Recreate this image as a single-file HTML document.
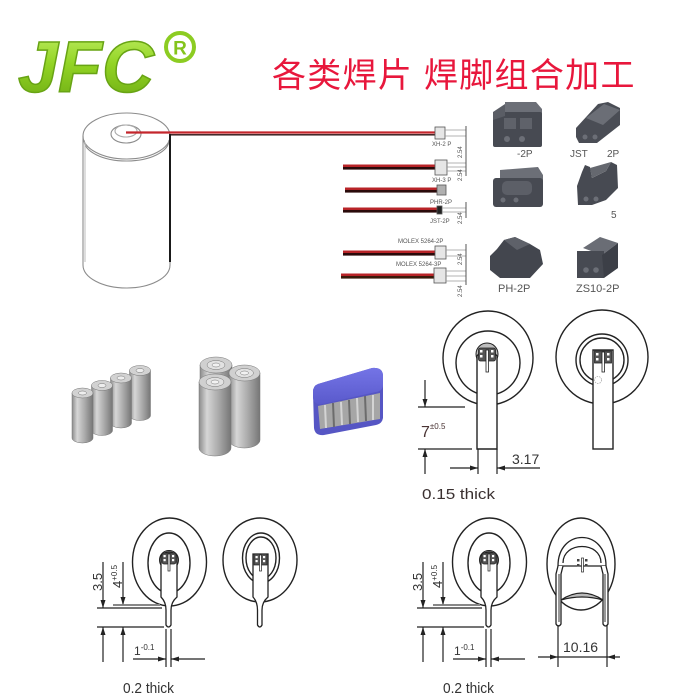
<!DOCTYPE html>
<html>
<head>
<meta charset="utf-8">
<style>
html,body{margin:0;padding:0;background:#fff;}
svg{display:block;}
</style>
</head>
<body>
<svg width="700" height="700" viewBox="0 0 700 700" xmlns="http://www.w3.org/2000/svg" font-family="'Liberation Sans', sans-serif">
<defs>
  <linearGradient id="jfc" x1="0" y1="0" x2="0" y2="1">
    <stop offset="0" stop-color="#c2ef66"/>
    <stop offset="0.45" stop-color="#92d424"/>
    <stop offset="1" stop-color="#6aa812"/>
  </linearGradient>
  <linearGradient id="cell" x1="0" y1="0" x2="1" y2="0">
    <stop offset="0" stop-color="#8c8c8c"/>
    <stop offset="0.25" stop-color="#d6d6d6"/>
    <stop offset="0.6" stop-color="#ababab"/>
    <stop offset="1" stop-color="#767676"/>
  </linearGradient>
  <linearGradient id="blueTop" x1="0" y1="0" x2="0" y2="1">
    <stop offset="0" stop-color="#7474e6"/>
    <stop offset="1" stop-color="#5a5acc"/>
  </linearGradient>
</defs>
<rect width="700" height="700" fill="#fff"/>

<!-- JFC logo -->
<text x="18" y="92" font-size="72" font-weight="bold" font-style="italic" fill="url(#jfc)" stroke="#68a414" stroke-width="1.5">JFC</text>
<circle cx="180" cy="47" r="14" fill="#fff" stroke="#8ccc22" stroke-width="4"/>
<text x="180" y="54.5" font-size="19" font-weight="bold" fill="#84c41c" text-anchor="middle">R</text>

<!-- Title -->
<text x="272" y="87" font-size="34" letter-spacing="1.3" fill="#e8173c" font-family="'Liberation Sans','Noto Sans CJK SC',sans-serif">各类焊片 焊脚组合加工</text>

<!-- Cylinder -->
<g fill="none" stroke="#8c8c8c" stroke-width="1.1">
  <ellipse cx="126.5" cy="136" rx="43.5" ry="23"/>
  <path d="M84,140 A42.5,21 0 0 0 169,140"/>
  <path d="M83,136 L83,265 A43.5,23 0 0 0 170,265 L170,136"/>
  <path d="M85,142 L85,262" stroke="#c4c4c4"/>
  <ellipse cx="126" cy="134" rx="15" ry="9"/>
  <ellipse cx="126" cy="131" rx="11" ry="6" stroke="#aaa"/>
</g>
<!-- cylinder wires -->
<line x1="126" y1="132.5" x2="435" y2="132.5" stroke="#c4262c" stroke-width="2.2"/>
<line x1="170" y1="134.8" x2="435" y2="134.8" stroke="#2a0c0c" stroke-width="1.4"/>
<line x1="170" y1="134" x2="170" y2="262" stroke="#1a1a1a" stroke-width="2"/>

<!-- wire harnesses -->
<g>
  <rect x="343" y="164.5" width="92" height="2.6" fill="#b82428"/>
  <rect x="343" y="167" width="92" height="2.6" fill="#2a0a0a"/>
  <rect x="345" y="187.5" width="92" height="2.6" fill="#b82428"/>
  <rect x="345" y="190" width="92" height="2.6" fill="#2a0a0a"/>
  <rect x="343" y="207.5" width="94" height="2.6" fill="#b82428"/>
  <rect x="343" y="210" width="94" height="2.6" fill="#2a0a0a"/>
  <rect x="343" y="250.5" width="92" height="2.6" fill="#b82428"/>
  <rect x="343" y="253" width="92" height="2.6" fill="#2a0a0a"/>
  <rect x="341" y="273.5" width="93" height="2.6" fill="#b82428"/>
  <rect x="341" y="276" width="93" height="2.6" fill="#3a1a0a"/>
</g>
<!-- small connectors -->
<g stroke="#555" stroke-width="0.8">
  <rect x="435" y="127" width="10" height="12" fill="#e6e6e6"/>
  <rect x="435" y="160" width="12" height="15" fill="#e6e6e6"/>
  <rect x="437" y="185" width="9" height="10" fill="#b0b0b0"/>
  <rect x="437" y="206" width="5" height="8" fill="#222"/>
  <rect x="435" y="246" width="11" height="13" fill="#e6e6e6"/>
  <rect x="434" y="268" width="12" height="15" fill="#e6e6e6"/>
</g>
<g stroke="#9a9a9a" stroke-width="0.8">
  <line x1="445" y1="130" x2="466" y2="130"/><line x1="445" y1="136" x2="466" y2="136"/>
  <line x1="447" y1="163" x2="466" y2="163"/><line x1="447" y1="167" x2="466" y2="167"/><line x1="447" y1="171" x2="466" y2="171"/>
  <line x1="442" y1="208" x2="466" y2="208"/><line x1="442" y1="212" x2="466" y2="212"/>
  <line x1="446" y1="250" x2="466" y2="250"/><line x1="446" y1="256" x2="466" y2="256"/>
  <line x1="446" y1="271" x2="466" y2="271"/><line x1="446" y1="276" x2="466" y2="276"/><line x1="446" y1="281" x2="466" y2="281"/>
</g>
<g stroke="#444" stroke-width="0.9">
  <line x1="466" y1="126" x2="466" y2="176"/>
  <line x1="466" y1="202" x2="466" y2="218"/>
  <line x1="466" y1="244" x2="466" y2="285"/>
</g>
<g font-size="6" fill="#555">
  <text x="432" y="146">XH-2 P</text>
  <text x="432" y="182">XH-3 P</text>
  <text x="430" y="204">PHR-2P</text>
  <text x="430" y="223">JST-2P</text>
  <text x="398" y="243">MOLEX 5264-2P</text>
  <text x="396" y="266">MOLEX 5264-3P</text>
  <text transform="translate(462,158) rotate(-90)">2.54</text>
  <text transform="translate(462,181) rotate(-90)">2.54</text>
  <text transform="translate(462,224) rotate(-90)">2.54</text>
  <text transform="translate(462,265) rotate(-90)">2.54</text>
  <text transform="translate(462,297) rotate(-90)">2.54</text>
</g>

<!-- right connector renders -->
<g>
  <!-- C1 -->
  <polygon points="505,102 536,102 542,109 542,116 505,116" fill="#6c6f77"/>
  <rect x="493" y="112" width="49" height="35" rx="2" fill="#474a52"/>
  <polygon points="493,112 505,104 505,116 493,120" fill="#5a5d65"/>
  <rect x="504" y="118" width="12" height="11" fill="#5f626a"/>
  <rect x="520" y="118" width="12" height="11" fill="#5f626a"/>
  <circle cx="507" cy="139" r="3" fill="#6c6f77"/>
  <circle cx="522" cy="139" r="3" fill="#6c6f77"/>
  <!-- C2 -->
  <polygon points="576,128 598,104 608,102 620,108 620,125 597,143 579,143 576,137" fill="#4a4d55"/>
  <polygon points="586,118 604,104 620,110 603,125" fill="#6b6e76"/>
  <circle cx="585" cy="137" r="2.5" fill="#6b6e76"/>
  <circle cx="595" cy="137" r="2.5" fill="#6b6e76"/>
  <!-- C3 -->
  <polygon points="500,170 538,167 543,175 543,182 500,182" fill="#6c6f77"/>
  <rect x="493" y="178" width="50" height="29" rx="3" fill="#474a52"/>
  <rect x="502" y="181" width="30" height="14" rx="5" fill="#5c5f67"/>
  <circle cx="503" cy="200" r="2.5" fill="#6c6f77"/>
  <circle cx="516" cy="200" r="2.5" fill="#6c6f77"/>
  <!-- C4 -->
  <polygon points="582,172 585,165 590,167 592,178 606,171 611,162 617,165 618,188 606,200 592,205 578,205 577,186" fill="#474a52"/>
  <polygon points="590,168 592,178 606,171 611,162" fill="#65686f"/>
  <circle cx="586" cy="199" r="2.5" fill="#6c6f77"/>
  <circle cx="596" cy="199" r="2.5" fill="#6c6f77"/>
  <!-- C5 -->
  <polygon points="490,256 497,249 504,240 515,237 530,244 540,250 543,264 530,278 500,278 490,270" fill="#43464e"/>
  <polygon points="504,240 515,237 530,244 517,250" fill="#5e6169"/>
  <!-- C6 -->
  <polygon points="583,248 600,237 618,243 602,255" fill="#6a6d75"/>
  <rect x="577" y="251" width="27" height="27" fill="#474a52"/>
  <polygon points="602,255 618,243 618,268 604,278" fill="#3c3f47"/>
  <circle cx="586" cy="270" r="2.8" fill="#6c6f77"/>
  <circle cx="596" cy="270" r="2.8" fill="#6c6f77"/>
</g>
<g font-size="10" fill="#555">
  <text x="517" y="157">-2P</text>
  <text x="570" y="157">JST</text>
  <text x="607" y="157">2P</text>
  <text x="611" y="218">5</text>
  <text x="498" y="292" font-size="11">PH-2P</text>
  <text x="576" y="292" font-size="11">ZS10-2P</text>
</g>

<!-- Battery pack 1: 4 cells -->
<g stroke="#777" stroke-width="0.5">
  <path d="M129.5,370.5 v45 a10.5,5 0 0 0 21,0 v-45 z" fill="url(#cell)"/>
  <ellipse cx="140" cy="370.5" rx="10.5" ry="5" fill="#d2d2d2"/>
  <ellipse cx="140" cy="370.5" rx="4" ry="2" fill="#eee"/>
  <path d="M110.5,378 v45 a10.5,5 0 0 0 21,0 v-45 z" fill="url(#cell)"/>
  <ellipse cx="121" cy="378" rx="10.5" ry="5" fill="#d2d2d2"/>
  <ellipse cx="121" cy="378" rx="4" ry="2" fill="#eee"/>
  <path d="M91.5,385.5 v45 a10.5,5 0 0 0 21,0 v-45 z" fill="url(#cell)"/>
  <ellipse cx="102" cy="385.5" rx="10.5" ry="5" fill="#d2d2d2"/>
  <ellipse cx="102" cy="385.5" rx="4" ry="2" fill="#eee"/>
  <path d="M72,393 v45 a10.5,5 0 0 0 21,0 v-45 z" fill="url(#cell)"/>
  <ellipse cx="82.5" cy="393" rx="10.5" ry="5" fill="#d2d2d2"/>
  <ellipse cx="82.5" cy="393" rx="4" ry="2" fill="#eee"/>
</g>
<!-- Battery pack 2: 3 big cells -->
<g stroke="#777" stroke-width="0.5">
  <path d="M200,365 v60 a16,8 0 0 0 32,0 v-60 z" fill="url(#cell)"/>
  <ellipse cx="216" cy="365" rx="16" ry="8" fill="#d0d0d0"/>
  <ellipse cx="216" cy="365" rx="9" ry="4.5" fill="#e2e2e2"/>
  <ellipse cx="216" cy="365" rx="4" ry="2" fill="#f2f2f2"/>
  <path d="M229,373 v67 a15.5,8 0 0 0 31,0 v-67 z" fill="url(#cell)"/>
  <ellipse cx="244.5" cy="373" rx="15.5" ry="8" fill="#d0d0d0"/>
  <ellipse cx="244.5" cy="373" rx="9" ry="4.5" fill="#e2e2e2"/>
  <ellipse cx="244.5" cy="373" rx="4" ry="2" fill="#f2f2f2"/>
  <path d="M199,382 v66 a16,8 0 0 0 32,0 v-66 z" fill="url(#cell)"/>
  <ellipse cx="215" cy="382" rx="16" ry="8" fill="#d0d0d0"/>
  <ellipse cx="215" cy="382" rx="9" ry="4.5" fill="#e2e2e2"/>
  <ellipse cx="215" cy="382" rx="4" ry="2" fill="#f2f2f2"/>
</g>
<!-- Battery pack 3: blue -->
<g>
  <path d="M318,384 L372,368 Q383,367 383,376 L383,418 Q382,424 376,425 L324,435 Q315,436 314,428 L313,392 Q313,386 318,384 Z" fill="#5656c4"/>
  <path d="M318,384 L372,368 Q383,367 383,376 L383,386 Q382,391 376,392 L322,404 Q314,405 313,398 L313,392 Q313,386 318,384 Z" fill="url(#blueTop)"/>
  <polygon points="318,406 380,393 380,419 320,429" fill="#a6a6a6"/>
  <g stroke="#6c6c6c" stroke-width="2">
    <line x1="333" y1="403" x2="334" y2="427"/>
    <line x1="349" y1="400" x2="350" y2="424"/>
    <line x1="365" y1="396" x2="366" y2="421"/>
  </g>
  <g stroke="#d4d4d4" stroke-width="2">
    <line x1="325" y1="405" x2="326" y2="428"/>
    <line x1="341" y1="402" x2="342" y2="425"/>
    <line x1="357" y1="398" x2="358" y2="422"/>
    <line x1="373" y1="395" x2="373" y2="420"/>
  </g>
</g>

<!-- ===== Top-right coin diagrams ===== -->
<g fill="none" stroke="#222" stroke-width="1.4">
  <ellipse cx="488" cy="358" rx="45" ry="47"/>
  <circle cx="488" cy="363" r="32"/>
  <ellipse cx="602" cy="357" rx="46" ry="47"/>
  <circle cx="602" cy="360" r="26"/>
  <circle cx="602" cy="360" r="22"/>
</g>
<!-- left coin tab -->
<circle cx="487" cy="354" r="11" fill="#bdbdbd" stroke="#222" stroke-width="1"/>
<path d="M477,449 L477,356 Q487,343 497,356 L497,449 Z" fill="#fff" stroke="#222" stroke-width="1.4"/>
<rect x="478.5" y="348" width="17" height="13" rx="2" fill="#555" stroke="#222" stroke-width="0.8"/>
<g fill="#fff">
  <rect x="480" y="350" width="2.5" height="2.5"/><rect x="480" y="355" width="2.5" height="2.5"/>
  <rect x="491" y="350" width="2.5" height="2.5"/><rect x="491" y="355" width="2.5" height="2.5"/>
</g>
<rect x="486" y="350" width="2.5" height="22" fill="#fff" stroke="#222" stroke-width="0.8"/>
<!-- right coin tab -->
<rect x="593" y="350" width="20" height="99" fill="#fff" stroke="#222" stroke-width="1.4"/>
<rect x="594.5" y="351" width="17" height="12" fill="#555" stroke="#222" stroke-width="0.8"/>
<g fill="#fff">
  <rect x="596" y="353" width="2.5" height="2.5"/><rect x="596" y="358" width="2.5" height="2.5"/>
  <rect x="607" y="353" width="2.5" height="2.5"/><rect x="607" y="358" width="2.5" height="2.5"/>
</g>
<rect x="602" y="352" width="2.5" height="20" fill="#fff" stroke="#222" stroke-width="0.8"/>
<circle cx="598" cy="380" r="3.5" fill="none" stroke="#aaa" stroke-width="0.8" stroke-dasharray="1.5,1"/>
<!-- dims top right -->
<g stroke="#222" stroke-width="1.2">
  <line x1="418" y1="407" x2="465" y2="407"/>
  <line x1="418" y1="449" x2="472" y2="449"/>
  <line x1="425" y1="380" x2="425" y2="407"/>
  <line x1="425" y1="449" x2="425" y2="474"/>
  <line x1="478" y1="449" x2="478" y2="474"/>
  <line x1="497" y1="449" x2="497" y2="474"/>
  <line x1="450" y1="468" x2="478" y2="468"/>
  <line x1="497" y1="468" x2="540" y2="468"/>
</g>
<g fill="#222">
  <polygon points="422.5,399 427.5,399 425,407"/>
  <polygon points="422.5,457 427.5,457 425,449"/>
  <polygon points="470,465.5 470,470.5 478,468"/>
  <polygon points="505,465.5 505,470.5 497,468"/>
</g>
<text x="421" y="437" font-size="16" fill="#4a3434">7<tspan font-size="8" dy="-8">±0.5</tspan></text>
<text x="512" y="464" font-size="14" fill="#333">3.17</text>
<text x="422" y="499" font-size="15" fill="#3a3030" textLength="73" lengthAdjust="spacingAndGlyphs">0.15 thick</text>

<!-- ===== Bottom-left pair (and reused for bottom-right first coin) ===== -->
<g id="pairA">
  <g fill="none" stroke="#222" stroke-width="1.4">
    <ellipse cx="169.5" cy="562" rx="37" ry="44"/>
    <ellipse cx="169" cy="563" rx="21" ry="30"/>
  </g>
  <circle cx="169" cy="560" r="9.5" fill="#bdbdbd" stroke="#222" stroke-width="1"/>
  <path d="M161,556 Q169,548 177,556 L177,597 Q171,602 171,610 L171,625 Q168.5,629 166,625 L166,610 Q166,602 161,597 Z" fill="#fff" stroke="#222" stroke-width="1.3"/>
  <rect x="162" y="553" width="14" height="11" rx="2" fill="#555" stroke="#222" stroke-width="0.7"/>
  <g fill="#fff">
    <rect x="163.5" y="555" width="2.2" height="2.2"/><rect x="163.5" y="559" width="2.2" height="2.2"/>
    <rect x="172" y="555" width="2.2" height="2.2"/><rect x="172" y="559" width="2.2" height="2.2"/>
  </g>
  <rect x="168" y="554" width="2" height="17" fill="#fff" stroke="#222" stroke-width="0.7"/>
  <!-- dims -->
  <g stroke="#222" stroke-width="1.2">
    <line x1="103" y1="562" x2="103" y2="608"/>
    <line x1="123" y1="562" x2="123" y2="605"/>
    <line x1="97" y1="608" x2="162" y2="608"/>
    <line x1="97" y1="627" x2="164" y2="627"/>
    <line x1="103" y1="627" x2="103" y2="662"/>
    <line x1="123" y1="627" x2="123" y2="662"/>
    <line x1="166" y1="629" x2="166" y2="667"/>
    <line x1="171" y1="629" x2="171" y2="667"/>
    <line x1="133" y1="659" x2="166" y2="659"/>
    <line x1="171" y1="659" x2="205" y2="659"/>
  </g>
  <line x1="113" y1="605" x2="160" y2="605" stroke="#888" stroke-width="2"/>
  <g fill="#222">
    <polygon points="100.5,600 105.5,600 103,608"/>
    <polygon points="120.5,597 125.5,597 123,605"/>
    <polygon points="100.5,635 105.5,635 103,627"/>
    <polygon points="120.5,635 125.5,635 123,627"/>
    <polygon points="158,656.5 158,661.5 166,659"/>
    <polygon points="179,656.5 179,661.5 171,659"/>
  </g>
  <text transform="translate(102,591) rotate(-90)" font-size="13" fill="#333">3.5</text>
  <text transform="translate(122,588) rotate(-90)" font-size="13" fill="#333">4<tspan font-size="8" dy="-5">+0.5</tspan></text>
  <text x="134" y="655" font-size="12" fill="#333">1<tspan font-size="8" dy="-5">-0.1</tspan></text>
  <text x="123" y="693" font-size="15" fill="#333" textLength="51" lengthAdjust="spacingAndGlyphs">0.2 thick</text>
</g>

<!-- bottom-left second coin -->
<g fill="none" stroke="#222" stroke-width="1.4">
  <ellipse cx="260" cy="560" rx="37" ry="42"/>
  <ellipse cx="261" cy="558" rx="18.5" ry="25"/>
  <ellipse cx="261" cy="558" rx="15" ry="21"/>
</g>
<path d="M253,554 L268,554 L268,597 Q262,602 262,610 L262,625 Q259.75,629 257.5,625 L257.5,610 Q257.5,602 253,597 Z" fill="#fff" stroke="#222" stroke-width="1.3"/>
<rect x="254" y="554" width="13" height="11" fill="#555" stroke="#222" stroke-width="0.7"/>
<g fill="#fff">
  <rect x="255.5" y="556" width="2.2" height="2.2"/><rect x="255.5" y="560" width="2.2" height="2.2"/>
  <rect x="263" y="556" width="2.2" height="2.2"/><rect x="263" y="560" width="2.2" height="2.2"/>
</g>
<rect x="259.5" y="555" width="2" height="16" fill="#fff" stroke="#222" stroke-width="0.7"/>

<!-- bottom-right pair: reuse first coin+dims -->
<use href="#pairA" transform="translate(320,0)"/>

<!-- bottom-right horseshoe coin -->
<ellipse cx="581" cy="564" rx="34" ry="46" fill="none" stroke="#222" stroke-width="1.4"/>
<g stroke="#222" stroke-width="1.3" fill="#fff">
  <path d="M558,566 C558,528 606,528 606,566 Z"/>
  <path d="M563,563 C563,541 601,541 601,563" fill="none"/>
  <path d="M558,566 L556,574 L556,624 Q558.5,628 561,624 L561,574 L563,566"/>
  <path d="M606,566 L608,574 L608,624 Q605.5,628 603,624 L603,574 L601,566"/>
  <path d="M561,600 Q582,586 603,600 Q582,594 561,600 Z" fill="#bbb"/>
</g>
<rect x="558" y="574" width="2" height="48" fill="#999"/>
<rect x="604" y="574" width="2" height="48" fill="#999"/>
<g fill="#444">
  <rect x="577" y="559" width="2.5" height="2.5"/><rect x="577" y="564" width="2.5" height="2.5"/>
  <rect x="585" y="559" width="2.5" height="2.5"/><rect x="585" y="564" width="2.5" height="2.5"/>
</g>
<rect x="581.5" y="558" width="2" height="14" fill="#fff" stroke="#222" stroke-width="0.7"/>
<g stroke="#222" stroke-width="1.2">
  <line x1="558" y1="625" x2="558" y2="667"/>
  <line x1="607" y1="625" x2="607" y2="667"/>
  <line x1="538" y1="657" x2="620" y2="657"/>
</g>
<g fill="#222">
  <polygon points="550,654.5 550,659.5 558,657"/>
  <polygon points="615,654.5 615,659.5 607,657"/>
</g>
<text x="563" y="652" font-size="14" fill="#333">10.16</text>
</svg>
</body>
</html>
